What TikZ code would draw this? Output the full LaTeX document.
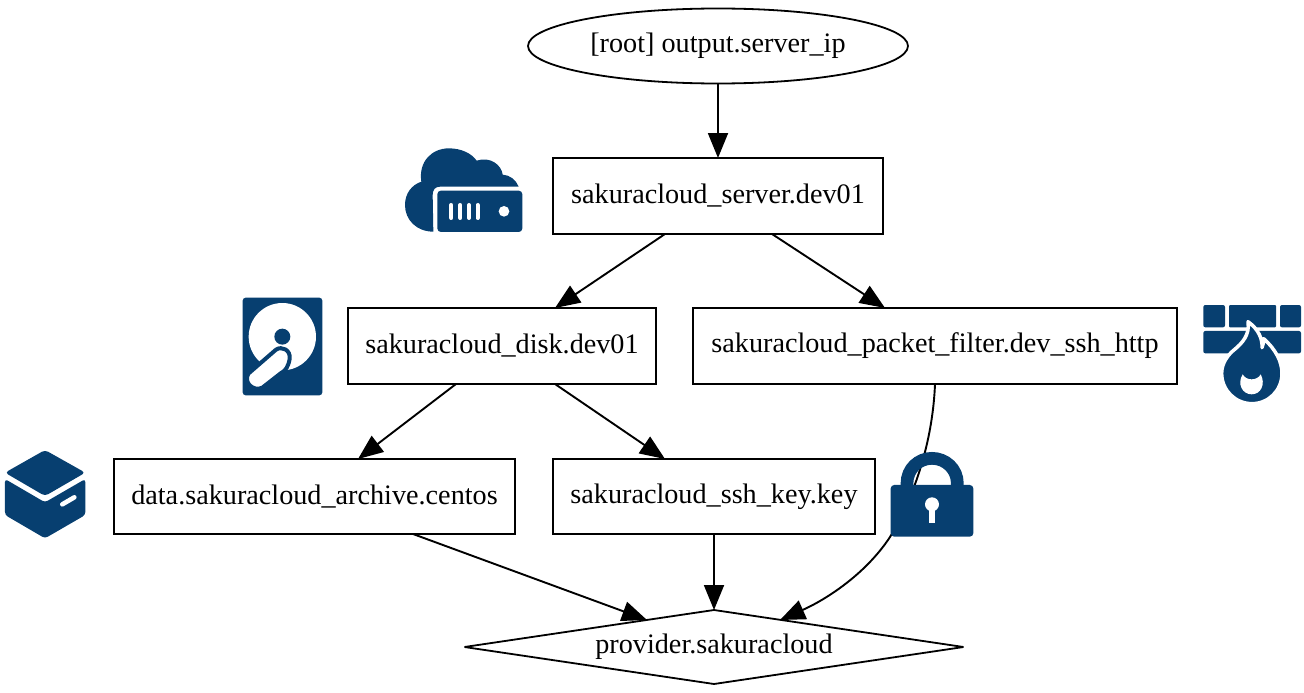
\documentclass[tikz,border=0pt]{standalone}
\usepackage{fontspec}
\setmainfont{Liberation Serif}
\usetikzlibrary{arrows.meta,calc,shapes.geometric}
\definecolor{iconblue}{HTML}{073F70}
\tikzset{
  gbox/.style={draw=black,line width=1.8pt,fill=white,inner sep=0pt,outer sep=0pt,font=\fontsize{28.2pt}{32pt}\selectfont},
  rbox/.style={gbox,rectangle,minimum height=76pt},
  edge/.style={draw=black,line width=1.9pt,-{Triangle[length=25pt,width=20pt]}},
  icon/.style={fill=iconblue,draw=none}
}
\begin{document}
\begin{tikzpicture}[x=1pt,y=-1pt]
\useasboundingbox (0,0) rectangle (1304,693);
\node[gbox,ellipse,minimum width=380pt,minimum height=75pt] (root) at (718,46) {[root] output.server\_ip};
\node[rbox,minimum width=330pt] (server) at (718,196) {sakuracloud\_server.dev01};
\node[rbox,minimum width=308pt] (disk) at (502,346) {sakuracloud\_disk.dev01};
\node[rbox,minimum width=484pt] (filter) at (935,346) {sakuracloud\_packet\_filter.dev\_ssh\_http};
\node[rbox,minimum width=401pt,minimum height=75pt] (archive) at (314.5,496.5) {data.sakuracloud\_archive.centos};
\node[rbox,minimum width=322pt,minimum height=75pt] (sshkey) at (714,496.5) {sakuracloud\_ssh\_key.key};
\node[gbox,diamond,aspect=6.58,minimum width=499pt,minimum height=74pt,miter limit=2] (prov) at (714,647) {provider.sakuracloud};

\draw[edge] (root.south) -- (server.north);
\draw[edge] ($(server.south)+(-53,0)$) -- ($(disk.north)+(53,0)$);
\draw[edge] ($(server.south)+(54,0)$) -- ($(filter.north)+(-50,0)$);
\draw[edge] ($(disk.south)+(-46,0)$) -- ($(archive.north)+(43.5,0)$);
\draw[edge] ($(disk.south)+(53,0)$) -- ($(sshkey.north)+(-49,0)$);
\draw[edge] ($(archive.south)+(98.5,0)$) -- ($(prov)+(-67,-27)$);
\draw[edge] (sshkey.south) -- (prov.north);
\draw[edge] (filter.south) .. controls +(-2,51) and ($(prov)+(204,-157)$) .. ($(prov)+(176,-110)$)
  .. controls ($(prov)+(151,-72)$) and ($(prov)+(111,-47)$) .. ($(prov)+(66,-27)$);

% cloud server icon
\begin{scope}[shift={(390,130)},x=.3333pt,y=-.3333pt]
\fill[icon] (130,305) .. controls (80,305) and (45,270) .. (45,225)
  .. controls (45,190) and (65,165) .. (94,155)
  .. controls (85,95) and (125,55) .. (177,55)
  .. controls (213,55) and (245,70) .. (260,92)
  .. controls (300,78) and (335,105) .. (338,134)
  .. controls (360,135) and (378,150) .. (386,170)
  -- (150,170) .. controls (135,170) and (128,180) .. (128,195) -- cycle;
\fill[icon,rounded corners=3.5pt] (142,182) rectangle (397,306);
\foreach \bx in {184,211,237,263}{\draw[white,line width=4pt,line cap=round] (\bx,225) -- (\bx,264);}
\fill[white] (342,244) circle[radius=16];
\end{scope}

% disk icon
\begin{scope}[shift={(230,285)},x=.3333pt,y=-.3333pt]
\fill[icon,rounded corners=3pt] (38,38) rectangle (277,331);
\fill[white] (157,155) circle[radius=101];
\fill[icon] (157,155) circle[radius=24];
\filldraw[fill=white,draw=iconblue,line width=4pt,line join=round]
  (55,266) -- (138,194) .. controls (155,182) and (183,195) .. (179,222)
  .. controls (175,244) and (167,258) .. (152,265)
  -- (97,308) .. controls (70,321) and (39,292) .. (55,266) -- cycle;
\end{scope}

% firewall icon
\begin{scope}[shift={(1190,295)},x=.3333pt,y=-.3333pt]
\fill[icon,rounded corners=2pt] (40,30) rectangle (105,97);
\fill[icon,rounded corners=1pt] (117,30) rectangle (258,97);
\fill[icon,rounded corners=2pt] (270,30) rectangle (333,97);
\fill[icon,rounded corners=2pt] (40,108) rectangle (333,175);
\filldraw[fill=iconblue,draw=white,line width=3.5pt,line join=round]
  (174,80) .. controls (205,102) and (218,132) .. (216,158)
  .. controls (219,150) and (221,142) .. (221,131)
  .. controls (257,163) and (276,200) .. (276,235)
  .. controls (276,286) and (236,326) .. (186,326)
  .. controls (136,326) and (95,286) .. (95,235)
  .. controls (95,205) and (113,180) .. (133,164)
  .. controls (156,145) and (180,120) .. (174,80) -- cycle;
\fill[white] (158,238) .. controls (168,258) and (202,258) .. (212,238)
  .. controls (228,268) and (212,298) .. (185,298)
  .. controls (158,298) and (140,268) .. (158,238) -- cycle;
\end{scope}

% box icon
\begin{scope}[shift={(0,440)},x=.3333pt,y=-.3333pt]
\fill[icon,rounded corners=3.5pt] (15,98) -- (135,30) -- (256,98) -- (135,168) -- cycle;
\fill[icon,rounded corners=3pt] (15,117) -- (135,187) -- (256,117) -- (256,225) -- (135,295) -- (15,225) -- cycle;
\draw[white,line width=4.6pt,line cap=round] (187,193) -- (223,172);
\end{scope}

% lock icon
\begin{scope}[shift={(880,440)},x=.3333pt,y=-.3333pt]
\draw[iconblue,line width=12.7pt] (81,140) -- (81,130) .. controls (81,87) and (115,55) .. (156,55)
  .. controls (197,55) and (232,87) .. (232,130) -- (232,140);
\fill[icon,rounded corners=3.5pt] (32,135) rectangle (280,290);
\fill[white] (156,193) circle[radius=21];
\fill[white] (147,200) rectangle (166,248);
\end{scope}
\end{tikzpicture}
\end{document}
